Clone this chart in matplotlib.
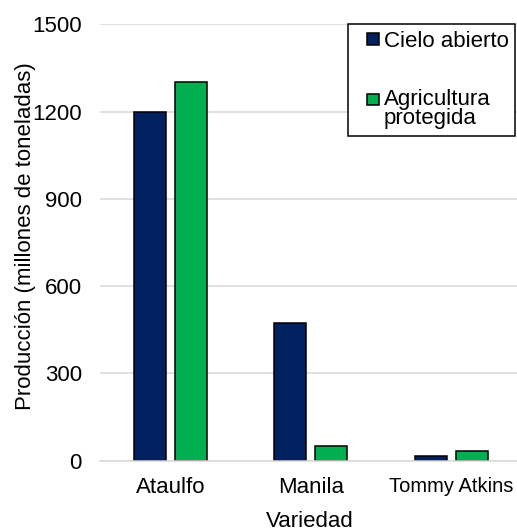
import matplotlib
matplotlib.use("Agg")
import matplotlib.pyplot as plt
from matplotlib.patches import Rectangle
from matplotlib.legend_handler import HandlerPatch
import numpy as np

# Production by mango variety and growing system
variedades = ["Ataulfo", "Manila", "Tommy Atkins"]
cielo_abierto = [1200, 473, 15]
agricultura_protegida = [1300, 50, 33]
yticks = [0, 300, 600, 900, 1200, 1500]

plt.rcParams["font.family"] = ["Liberation Sans", "DejaVu Sans"]
FS = 16

fig = plt.figure(figsize=(5.17, 5.31), dpi=100)
W, H = 517, 531
left, right, bottom, top = 100, 521.5, 460.7, 24.3
ax = fig.add_axes([left / W, 1 - bottom / H, (right - left) / W, (bottom - top) / H])

x = np.arange(len(variedades))
bw = 0.228
off = 0.146
b1 = ax.bar(x - off, cielo_abierto, bw, color="#002060", edgecolor="black",
            linewidth=1.1, label="Cielo abierto", zorder=3)
b2 = ax.bar(x + off, agricultura_protegida, bw, color="#00B050", edgecolor="black",
            linewidth=1.1, label="Agricultura\nprotegida", zorder=3)

ax.set_xlim(-0.5, len(variedades) - 0.5)
ax.set_ylim(0, 1500)
ax.set_yticks(yticks)
ax.set_xticks(x)
ax.set_xticklabels(variedades)
ax.tick_params(axis="both", length=0, labelsize=FS)
ax.tick_params(axis="y", pad=13)
ax.tick_params(axis="x", pad=12)
# the last category name is set a little tighter so it fits at the right edge
ax.get_xticklabels()[-1].set_fontsize(14.5)

ax.yaxis.grid(True, color="#D9D9D9", linewidth=1.1, zorder=0)
ax.set_axisbelow(True)
for s in ["top", "right", "left"]:
    ax.spines[s].set_visible(False)
ax.spines["bottom"].set_color("#D9D9D9")
ax.spines["bottom"].set_linewidth(1.1)
ax.spines["bottom"].set_zorder(4)

ax.set_ylabel("Producción (millones de toneladas)", fontsize=FS)
ax.yaxis.set_label_coords(-0.153, 0.514)
ax.set_xlabel("Variedad", fontsize=FS)
ax.xaxis.set_label_coords(0.498, -0.115)

handles = [b1.patches[0], b2.patches[0]]
labels = [b1.get_label(), b2.get_label()]
two_line = {id(h): "\n" in lab for h, lab in zip(handles, labels)}


def square_patch(legend, orig_handle, xdescent, ydescent, width, height, fontsize):
    # small square at the right end of the handle box, level with the first line
    sq_w, sq_h = 9.0, 8.2
    y_shift = 7.0 if two_line.get(id(orig_handle), False) else 0.0
    x0 = -xdescent + width - sq_w
    y0 = -ydescent + (height - sq_h) / 2 + y_shift
    return Rectangle((x0, y0), sq_w, sq_h)


handler = HandlerPatch(patch_func=square_patch)
leg = fig.legend(handles, labels, loc="upper left",
                 bbox_to_anchor=(348 / W, 1 - 24 / H),
                 bbox_transform=fig.transFigure, fontsize=FS, frameon=True,
                 fancybox=False, borderaxespad=0, handlelength=1.1,
                 handleheight=0.6, handletextpad=0.2, labelspacing=1.68,
                 borderpad=0.3,
                 handler_map={h: handler for h in handles})
leg.get_texts()[1].set_linespacing(0.9)
frame = leg.get_frame()
frame.set_edgecolor("black")
frame.set_linewidth(1.1)
frame.set_facecolor("white")
frame.set_alpha(1)

fig.savefig("out.png", dpi=100)
